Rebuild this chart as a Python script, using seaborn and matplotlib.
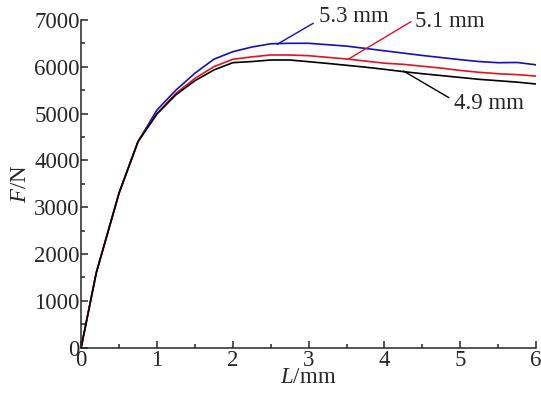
import numpy as np
import pandas as pd
import seaborn as sns
import matplotlib.pyplot as plt

# displacement L (mm) and force F (N) for the three diameters
L = [0, 0.2, 0.5, 0.75, 1.0, 1.25, 1.5, 1.75, 2.0, 2.25, 2.5, 2.75, 3.0,
     3.25, 3.5, 3.75, 4.0, 4.25, 4.5, 4.75, 5.0, 5.25, 5.5, 5.75, 6.0]
f_53 = [0, 1600, 3300, 4400, 5075, 5500, 5860, 6160, 6320, 6420, 6490, 6500, 6500,
        6470, 6440, 6390, 6340, 6290, 6240, 6195, 6150, 6110, 6085, 6090, 6040]
f_51 = [0, 1600, 3300, 4400, 5000, 5430, 5750, 6000, 6158, 6210, 6250, 6250, 6235,
        6200, 6165, 6120, 6075, 6050, 6010, 5970, 5920, 5880, 5850, 5830, 5800]
f_49 = [0, 1600, 3300, 4400, 4990, 5400, 5700, 5930, 6086, 6110, 6143, 6143, 6107,
        6070, 6030, 5990, 5944, 5894, 5850, 5810, 5770, 5730, 5700, 5670, 5630]
labels = ['5.3 mm', '5.1 mm', '4.9 mm']
colors = ['#1010c0', '#e0141e', '#000000']

data = pd.DataFrame({
    'L': L * 3,
    'F': f_53 + f_51 + f_49,
    'd': sum([[lab] * len(L) for lab in labels], []),
})

sns.set_style('ticks')
plt.rcParams['font.family'] = ['Liberation Serif', 'DejaVu Serif']
plt.rcParams['mathtext.fontset'] = 'custom'
plt.rcParams['mathtext.rm'] = 'Liberation Serif'
plt.rcParams['mathtext.it'] = 'Liberation Serif:italic'

fs = 16.5
fig = plt.figure(figsize=(5.41, 3.94), dpi=100)
ax = fig.add_axes([0.15, 0.118, 0.841, 0.8315])
sns.lineplot(data=data, x='L', y='F', hue='d', palette=dict(zip(labels, colors)),
             linewidth=1.2, legend=False, ax=ax, estimator=None, sort=False)

ax.set_xlim(0, 6)
ax.set_ylim(0, 7000)
ax.set_xticks(range(0, 7))
ax.set_xticks(np.arange(0.5, 6, 1), minor=True)
ax.set_yticks(range(0, 7001, 1000))
ax.set_yticks(range(500, 7000, 1000), minor=True)
ax.tick_params(which='both', direction='in', width=1.1, labelsize=fs)
ax.tick_params(which='major', length=5)
ax.tick_params(which='minor', length=2.7)
ax.tick_params(axis='y', pad=1)
ax.tick_params(axis='x', pad=2)
for s in ['left', 'bottom']:
    ax.spines[s].set_linewidth(1.1)
sns.despine(ax=ax)

ax.set_xlabel('$L$/mm', fontsize=fs, labelpad=-3)
ax.set_ylabel('$F$/N', fontsize=fs, labelpad=2)

# leader lines and labels
ax.plot([2.585, 3.06], [6479, 6927], color=colors[0], lw=1.0, clip_on=False)
ax.text(3.14, 7070, labels[0], fontsize=fs, va='center', ha='left')
ax.plot([3.52, 4.35], [6158, 6962], color=colors[1], lw=1.0, clip_on=False)
ax.text(4.40, 6976, labels[1], fontsize=fs, va='center', ha='left')
ax.plot([4.25, 4.85], [5908, 5338], color=colors[2], lw=1.0, clip_on=False)
ax.text(4.92, 5218, labels[2], fontsize=fs, va='center', ha='left')

plt.savefig('out.png', dpi=100)
